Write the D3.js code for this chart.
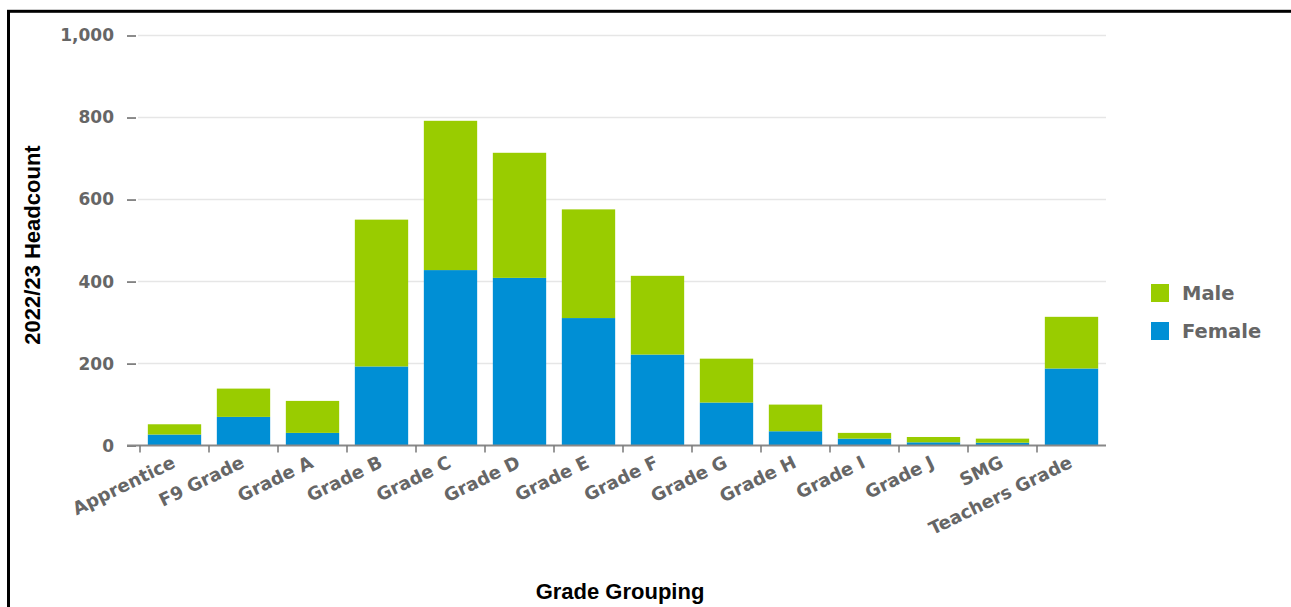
<!DOCTYPE html>
<html>
<head>
<meta charset="utf-8">
<script src="https://cdn.jsdelivr.net/npm/d3@7"></script>
<style>
  html, body { margin: 0; padding: 0; background: #fff; }
  svg { display: block; }
</style>
</head>
<body>
<svg id="chart" width="1291" height="607"></svg>
<script>
// ---- data ----
const categories = ["Apprentice", "F9 Grade", "Grade A", "Grade B", "Grade C", "Grade D", "Grade E",
  "Grade F", "Grade G", "Grade H", "Grade I", "Grade J", "SMG", "Teachers Grade"];
const female = [27, 70, 31, 193, 428, 409, 311, 222, 105, 35, 17, 8, 7, 188];
const male   = [25, 69, 78, 358, 364, 305, 265, 192, 107, 65, 14, 13, 10, 126];
const seriesNames = ["Female", "Male"];
const legendNames = ["Male", "Female"];
const yTicks = [0, 200, 400, 600, 800, 1000];
const yTitle = "2022/23 Headcount";
const xTitle = "Grade Grouping";

const colors = { Male: "#99cc00", Female: "#008fd5" };

const svg = d3.select("#chart");

// frame
svg.append("rect")
  .attr("x", 8.5).attr("y", 11.3)
  .attr("width", 1400).attr("height", 700)
  .attr("fill", "none").attr("stroke", "#000").attr("stroke-width", 3);

const plotLeft = 140, plotRight = 1106, plotTop = 35.5, plotBottom = 445.6;

const x = d3.scaleBand().domain(categories).range([plotLeft, plotRight])
  .paddingInner(0.227).paddingOuter(0.1135);
const y = d3.scaleLinear().domain([0, 1000]).range([plotBottom, plotTop]);

const rows = categories.map((c, i) => ({ cat: c, Female: female[i], Male: male[i] }));
const stacked = d3.stack().keys(seriesNames)(rows);

// grid lines
svg.append("g").selectAll("line").data(yTicks.filter(d => d > 0)).join("line")
  .attr("x1", 138).attr("x2", plotRight)
  .attr("y1", d => y(d)).attr("y2", d => y(d))
  .attr("stroke", "#e6e6e6").attr("stroke-width", 1.5);

// y axis
const yAxis = svg.append("g").attr("transform", "translate(136,0)")
  .call(d3.axisLeft(y).tickValues(yTicks).tickFormat(d3.format(",")).tickSize(9).tickPadding(13));
yAxis.select(".domain").remove();
yAxis.selectAll(".tick line").attr("stroke", "#666").attr("stroke-width", 1.5);
yAxis.selectAll(".tick text")
  .attr("fill", "#666").style("font-family", "'DejaVu Sans'").style("font-weight", "bold")
  .style("font-size", "17px");

// bars
svg.append("g").selectAll("g").data(stacked).join("g")
  .attr("fill", d => colors[d.key])
  .selectAll("rect").data(d => d).join("rect")
  .attr("x", d => x(d.data.cat))
  .attr("width", x.bandwidth())
  .attr("y", d => y(d[1]))
  .attr("height", d => y(d[0]) - y(d[1]));

// x axis line
svg.append("line")
  .attr("x1", 127).attr("x2", plotRight).attr("y1", plotBottom).attr("y2", plotBottom)
  .attr("stroke", "#888").attr("stroke-width", 2);

// x ticks at band boundaries
const step = x.step();
svg.append("g").selectAll("line").data(categories).join("line")
  .attr("x1", d => x(d) - step * x.paddingInner() / 2)
  .attr("x2", d => x(d) - step * x.paddingInner() / 2)
  .attr("y1", plotBottom).attr("y2", plotBottom + 7)
  .attr("stroke", "#777").attr("stroke-width", 1.5);

// x labels
svg.append("g").selectAll("text").data(categories).join("text")
  .attr("transform", d => `translate(${x(d) + x.bandwidth() / 2 + 2},${plotBottom + 21}) rotate(-26)`)
  .attr("text-anchor", "end")
  .attr("fill", "#666")
  .style("font-family", "'DejaVu Sans'").style("font-weight", "bold").style("font-size", "18px")
  .text(d => d);

// axis titles
svg.append("text")
  .attr("transform", "translate(40,245) rotate(-90)")
  .attr("text-anchor", "middle")
  .style("font-family", "'Liberation Sans', Arial").style("font-weight", "bold").style("font-size", "22px")
  .attr("fill", "#000")
  .text(yTitle);

svg.append("text")
  .attr("x", 620).attr("y", 599)
  .attr("text-anchor", "middle")
  .style("font-family", "'Liberation Sans', Arial").style("font-weight", "bold").style("font-size", "22px")
  .attr("fill", "#000")
  .text(xTitle);

// legend
const lg = svg.append("g").selectAll("g").data(legendNames).join("g")
  .attr("transform", (d, i) => `translate(1151,${284 + i * 38})`);
lg.append("rect").attr("width", 18).attr("height", 18).attr("fill", d => colors[d]);
lg.append("text").attr("x", 31).attr("y", 9).attr("dy", "0.35em")
  .attr("fill", "#666")
  .style("font-family", "'DejaVu Sans'").style("font-weight", "bold").style("font-size", "19.5px")
  .text(d => d);
</script>
</body>
</html>
